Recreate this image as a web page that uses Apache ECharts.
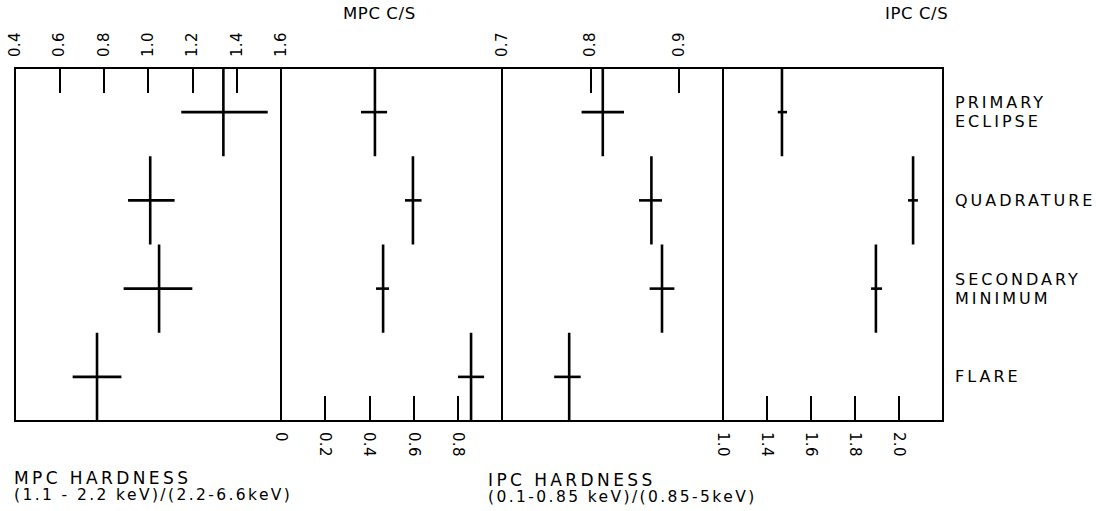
<!DOCTYPE html>
<html>
<head>
<meta charset="utf-8">
<script src="https://cdn.jsdelivr.net/npm/echarts@6/dist/echarts.min.js"></script>
<style>
  html, body { margin: 0; padding: 0; background: #fff; }
  #chart { width: 1103px; height: 511px; }
</style>
</head>
<body>
<div id="chart"></div>
<script>
// ---- rows (categories), top to bottom ----
const rowLabels = ['PRIMARY\nECLIPSE', 'QUADRATURE', 'SECONDARY\nMINIMUM', 'FLARE'];

// ---- panel 1 (top axis 0.4 - 1.6) ----
const p1Val = [1.34, 1.01, 1.05, 0.77];
const p1Lo  = [1.15, 0.91, 0.89, 0.66];
const p1Hi  = [1.54, 1.12, 1.20, 0.88];
const p1Ticks  = [0.4, 0.6, 0.8, 1.0, 1.2, 1.4, 1.6];
const p1Labels = ['0.4', '0.6', '0.8', '1.0', '1.2', '1.4', '1.6'];

// ---- panel 2 (bottom axis 0 - 1.0) ----
const p2Val = [0.425, 0.597, 0.462, 0.860];
const p2Lo  = [0.362, 0.561, 0.430, 0.801];
const p2Hi  = [0.480, 0.636, 0.489, 0.919];
const p2Ticks  = [0, 0.2, 0.4, 0.6, 0.8];
const p2Labels = ['0', '0.2', '0.4', '0.6', '0.8'];

// ---- panel 3 (top axis 0.7 - 0.95) ----
const p3Val = [0.814, 0.869, 0.881, 0.776];
const p3Lo  = [0.790, 0.855, 0.867, 0.759];
const p3Hi  = [0.838, 0.881, 0.895, 0.789];
const p3Ticks  = [0.7, 0.8, 0.9];
const p3Labels = ['0.7', '0.8', '0.9'];

// ---- panel 4 (bottom axis) ----
const p4Val = [1.468, 2.064, 1.895, null];
const p4Lo  = [1.449, 2.041, 1.873, null];
const p4Hi  = [1.491, 2.086, 1.923, null];
const p4Ticks  = [1.2, 1.4, 1.6, 1.8, 2.0];
const p4Labels = ['1.0', '1.4', '1.6', '1.8', '2.0'];

// ---- free texts ----
const titleTop1 = 'MPC C/S';
const titleTop2 = 'IPC C/S';
const bottomA1 = 'MPC HARDNESS';
const bottomA2 = '(1.1 - 2.2 keV)/(2.2-6.6keV)';
const bottomB1 = 'IPC HARDNESS';
const bottomB2 = '(0.1-0.85 keV)/(0.85-5keV)';

const FONT = '"DejaVu Sans", sans-serif';
const TOP = 68, H = 353;

function lookup(ticks, labels) {
  return function (v) {
    for (let i = 0; i < ticks.length; i++) {
      if (Math.abs(ticks[i] - v) < 1e-6) return labels[i];
    }
    return '';
  };
}

function buildData(val, lo, hi) {
  const out = [];
  for (let i = 0; i < val.length; i++) {
    if (val[i] == null) continue;
    out.push([val[i], lo[i], hi[i], i]);
  }
  return out;
}

function renderCross(params, api) {
  const x = api.value(0), lo = api.value(1), hi = api.value(2), r = api.value(3);
  const c = api.coord([x, r]);
  const pl = api.coord([lo, r]);
  const ph = api.coord([hi, r]);
  const band = api.size([0, 1])[1];
  const st = { stroke: '#000', lineWidth: 2.6, fill: null };
  return {
    type: 'group',
    children: [
      { type: 'line', shape: { x1: c[0], y1: c[1] - band / 2, x2: c[0], y2: c[1] + band / 2 }, style: st },
      { type: 'line', shape: { x1: pl[0], y1: c[1], x2: ph[0], y2: c[1] }, style: st }
    ]
  };
}

const grids = [
  { left: 15, top: TOP, width: 266, height: H },
  { left: 281, top: TOP, width: 221, height: H },
  { left: 502, top: TOP, width: 221, height: H },
  { left: 723, top: TOP, width: 220, height: H }
].map(g => Object.assign({ show: true, borderColor: '#000', borderWidth: 2, backgroundColor: 'transparent', containLabel: false }, g));

function xAx(idx, pos, min, max, interval, ticks, labels) {
  return {
    type: 'value', gridIndex: idx, position: pos, min: min, max: max, interval: interval,
    splitLine: { show: false },
    axisLine: { show: false },
    axisTick: { show: true, inside: true, length: 25, customValues: ticks, lineStyle: { color: '#000', width: 2 } },
    axisLabel: {
      show: true, rotate: -90, margin: 11, customValues: ticks,
      formatter: lookup(ticks, labels),
      color: '#000', fontSize: 15, fontFamily: FONT,
      showMinLabel: true, showMaxLabel: true
    }
  };
}

function yAx(idx, showLabels) {
  return {
    type: 'category', gridIndex: idx, data: rowLabels, inverse: true,
    position: 'right',
    axisLine: { show: false }, axisTick: { show: false }, splitLine: { show: false },
    axisLabel: {
      show: showLabels, margin: 12, align: 'left', color: '#000',
      fontSize: 16, lineHeight: 19, fontFamily: FONT
    }
  };
}

const option = {
  animation: false,
  backgroundColor: '#fff',
  grid: grids,
  xAxis: [
    xAx(0, 'top', 0.4, 1.6, 0.2, p1Ticks, p1Labels),
    xAx(1, 'bottom', 0, 1.0, 0.2, p2Ticks, p2Labels),
    xAx(2, 'top', 0.7, 0.95, 0.1, p3Ticks, p3Labels),
    xAx(3, 'bottom', 1.2, 2.2, 0.2, p4Ticks, p4Labels)
  ],
  yAxis: [yAx(0, false), yAx(1, false), yAx(2, false), yAx(3, true)],
  series: [
    { type: 'custom', xAxisIndex: 0, yAxisIndex: 0, renderItem: renderCross, encode: { x: [0, 1, 2], y: 3 }, data: buildData(p1Val, p1Lo, p1Hi) },
    { type: 'custom', xAxisIndex: 1, yAxisIndex: 1, renderItem: renderCross, encode: { x: [0, 1, 2], y: 3 }, data: buildData(p2Val, p2Lo, p2Hi) },
    { type: 'custom', xAxisIndex: 2, yAxisIndex: 2, renderItem: renderCross, encode: { x: [0, 1, 2], y: 3 }, data: buildData(p3Val, p3Lo, p3Hi) },
    { type: 'custom', xAxisIndex: 3, yAxisIndex: 3, renderItem: renderCross, encode: { x: [0, 1, 2], y: 3 }, data: buildData(p4Val, p4Lo, p4Hi) }
  ],
  graphic: [
    { type: 'text', left: 343, top: 5, style: { text: titleTop1, fill: '#000', font: '16.5px ' + FONT } },
    { type: 'text', left: 885, top: 5, style: { text: titleTop2, fill: '#000', font: '16.5px ' + FONT } },
    { type: 'text', left: 14, top: 469, style: { text: bottomA1, fill: '#000', font: '17px ' + FONT } },
    { type: 'text', left: 14, top: 487, style: { text: bottomA2, fill: '#000', font: '15.5px ' + FONT } },
    { type: 'text', left: 488, top: 471, style: { text: bottomB1, fill: '#000', font: '17px ' + FONT } },
    { type: 'text', left: 488, top: 489, style: { text: bottomB2, fill: '#000', font: '15.5px ' + FONT } }
  ]
};

const chart = echarts.init(document.getElementById('chart'), null, { renderer: 'svg' });
chart.setOption(option);

const spacingBySize = { '16.5': 0.6, '15': 0.3, '15.5': 2.4, '16': 3, '17': 3.4 };
function applySpacing() {
  document.querySelectorAll('#chart svg text').forEach(t => {
    const fs = String(parseFloat(getComputedStyle(t).fontSize));
    const sp = spacingBySize[fs];
    if (sp != null) t.style.letterSpacing = sp + 'px';
  });
}
chart.on('finished', applySpacing);
requestAnimationFrame(() => requestAnimationFrame(applySpacing));
setTimeout(applySpacing, 50);
</script>
</body>
</html>
